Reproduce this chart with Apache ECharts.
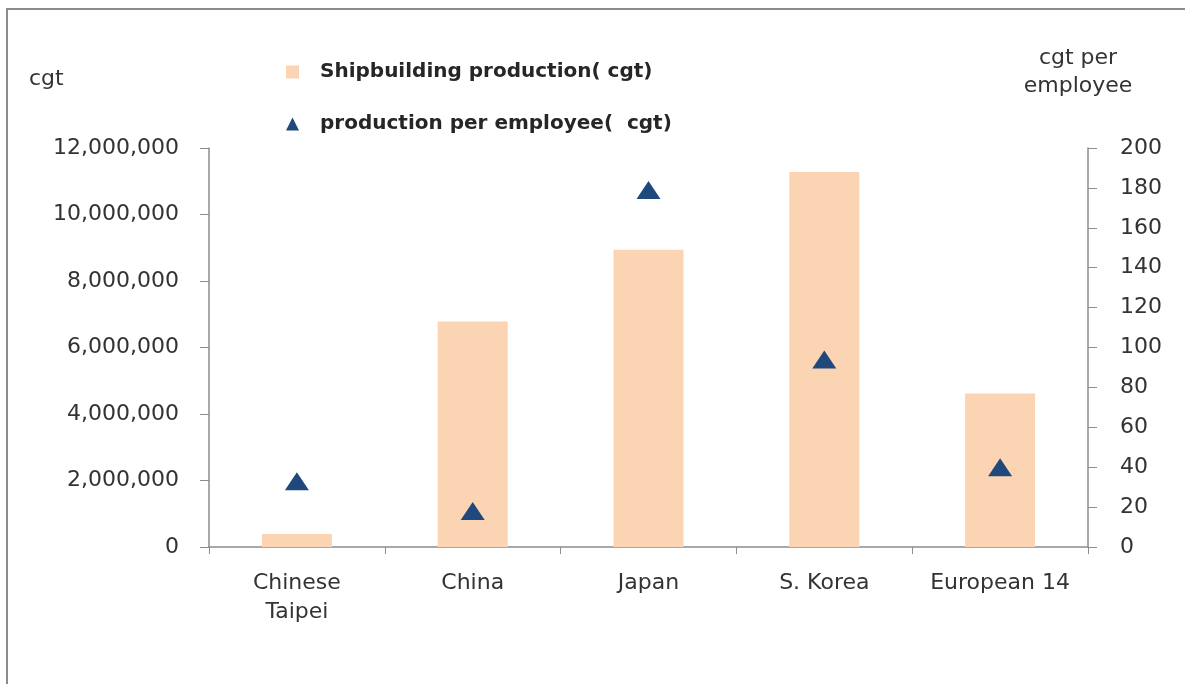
<!DOCTYPE html>
<html>
<head>
<meta charset="utf-8">
<script src="https://cdn.jsdelivr.net/npm/echarts@6/dist/echarts.min.js"></script>
<style>
html,body{margin:0;padding:0;background:#fff;}
#c{width:1185px;height:684px;}
</style>
</head>
<body>
<div id="c"></div>
<script>
const categories = ['Chinese\nTaipei', 'China', 'Japan', 'S. Korea', 'European 14'];
const production = [390000, 6780000, 8940000, 11280000, 4620000];
const perEmployee = [33, 18, 179, 94, 40];
const seriesNames = ['Shipbuilding production( cgt)', 'production per employee(  cgt)'];

const font = 'DejaVu Sans';
const textColor = '#333333';
const axisColor = '#8c8c8c';

const chart = echarts.init(document.getElementById('c'));
chart.setOption({
  animation: false,
  backgroundColor: '#ffffff',
  graphic: [{
    type: 'rect',
    shape: { x: 7, y: 9, width: 1400, height: 900 },
    style: { fill: 'none', stroke: '#8c8c8c', lineWidth: 2 },
    silent: true
  }],
  legend: {
    orient: 'vertical',
    left: 281,
    top: 57,
    itemGap: 32,
    itemWidth: 13,
    itemHeight: 13,
    textStyle: { fontFamily: font, fontSize: 20, fontWeight: 'bold', color: '#262626', padding: [0, 0, 0, 16] },
    data: [
      { name: seriesNames[0], icon: 'rect' },
      { name: seriesNames[1], icon: 'triangle' }
    ]
  },
  grid: { left: 209, right: 97, top: 148, bottom: 137, containLabel: false },
  xAxis: {
    type: 'category',
    data: categories,
    boundaryGap: true,
    axisLine: { lineStyle: { color: axisColor, width: 1.5 } },
    axisTick: { show: true, length: 7, lineStyle: { color: axisColor } },
    axisLabel: { fontFamily: font, fontSize: 22, color: textColor, margin: 22, lineHeight: 29, interval: 0 }
  },
  yAxis: [{
    type: 'value',
    min: 0, max: 12000000, interval: 2000000,
    name: 'cgt',
    nameLocation: 'end',
    nameGap: 58,
    nameTextStyle: { fontFamily: font, fontSize: 22, color: textColor, align: 'left', padding: [0, 0, 0, -180] },
    splitLine: { show: false },
    axisLine: { show: true, lineStyle: { color: axisColor, width: 1.5 } },
    axisTick: { show: true, length: 9, lineStyle: { color: axisColor } },
    axisLabel: {
      fontFamily: font, fontSize: 22, color: textColor, margin: 30,
      formatter: v => v.toLocaleString('en-US')
    }
  }, {
    type: 'value',
    min: 0, max: 200, interval: 20,
    name: 'cgt per\nemployee',
    nameLocation: 'end',
    nameGap: 48,
    nameTextStyle: { fontFamily: font, fontSize: 22, color: textColor, align: 'center', lineHeight: 28, padding: [0, 0, 0, -20] },
    splitLine: { show: false },
    axisLine: { show: true, lineStyle: { color: axisColor, width: 1.5 } },
    axisTick: { show: true, length: 9, lineStyle: { color: axisColor } },
    axisLabel: { fontFamily: font, fontSize: 22, color: textColor, margin: 32 }
  }],
  series: [{
    name: seriesNames[0],
    type: 'bar',
    data: production,
    barWidth: 70,
    itemStyle: { color: '#FBD4B4' }
  }, {
    name: seriesNames[1],
    type: 'scatter',
    yAxisIndex: 1,
    data: perEmployee,
    symbol: 'triangle',
    symbolSize: [24, 18],
    itemStyle: { color: '#1F497D', opacity: 1 }
  }]
});
</script>
</body>
</html>
